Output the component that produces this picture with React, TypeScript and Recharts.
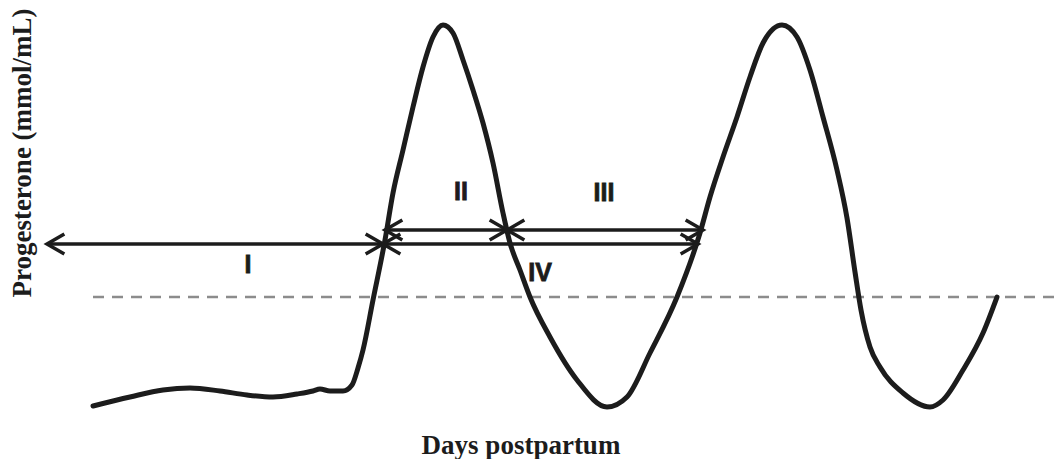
import React from 'react';
import { ComposedChart, Line, XAxis, YAxis, ReferenceLine, ReferenceDot } from 'recharts';

// Days postpartum (schematic) and progesterone level (arbitrary units)
const days = [5.3, 9.0, 12.3, 15.0, 18.0, 20.7, 23.3, 25.7, 27.3, 28.0, 29.0, 30.3, 31.2, 31.8, 32.3, 33.3, 34.5, 35.3, 36.3, 37.3, 38.3, 39.3, 40.3, 41.3, 42.3, 43.3, 44.3, 45.3, 46.3, 47.0, 48.0, 49.0, 51.0, 53.7, 56.7, 58.7, 61.0, 63.7, 66.0, 67.0, 68.3, 69.7, 71.0, 72.3, 74.2, 75.7, 77.0, 78.3, 79.7, 80.7, 81.5, 82.1, 83.0, 84.0, 86.3, 89.0, 90.3, 92.3, 94.3, 95.7];
const progesterone = [0.7, 1.15, 1.5, 1.6, 1.45, 1.25, 1.15, 1.3, 1.45, 1.55, 1.45, 1.45, 1.75, 2.6, 3.5, 6.0, 9.0, 11.35, 13.5, 15.65, 17.65, 19.15, 19.75, 19.35, 18.0, 16.5, 14.85, 12.85, 10.35, 8.85, 7.5, 6.15, 4.15, 2.0, 0.65, 1.15, 3.35, 6.15, 9.35, 11.15, 13.15, 15.15, 17.15, 18.85, 19.75, 19.15, 17.5, 15.15, 12.5, 10.1, 7.4, 5.5, 3.65, 2.65, 1.35, 0.65, 1.0, 2.5, 4.35, 6.15];

// Threshold (dashed line)
const threshold = 6.15;
const thresholdFrom = 5.3;
const thresholdTo = 102;

// Interval arrows
const arrowLabels = ['I', 'II', 'III', 'IV'];
const arrowFrom = [0.7, 34.5, 46.7, 34.3];
const arrowTo = [34.3, 46.7, 66.3, 65.8];
const arrowLevel = [8.8, 9.5, 9.5, 8.8];

// Label anchor points (baseline)
const labelDay = [20.8, 42.1, 56.4, 50.0];
const labelLevel = [7.35, 11.0, 10.95, 6.95];

const xLabel = 'Days postpartum';
const yLabel = 'Progesterone (mmol/mL)';

const data = days.map((d, i) => ({ day: d, p: progesterone[i] }));

const INK = '#1c1c1c';

const ArrowShape = (props: any) => {
  const { x1, y1, x2, y2 } = props;
  const ang = Math.atan2(y2 - y1, x2 - x1);
  const L = 20;
  const s = 0.52;
  const a1 = `M ${x1 + L * Math.cos(ang + s)} ${y1 + L * Math.sin(ang + s)} L ${x1} ${y1} L ${x1 + L * Math.cos(ang - s)} ${y1 + L * Math.sin(ang - s)}`;
  const a2 = `M ${x2 - L * Math.cos(ang + s)} ${y2 - L * Math.sin(ang + s)} L ${x2} ${y2} L ${x2 - L * Math.cos(ang - s)} ${y2 - L * Math.sin(ang - s)}`;
  return (
    <g>
      <line x1={x1} y1={y1} x2={x2} y2={y2} stroke={INK} strokeWidth={3.5} />
      <path d={a1} fill="none" stroke={INK} strokeWidth={3.5} strokeLinecap="butt" />
      <path d={a2} fill="none" stroke={INK} strokeWidth={3.5} strokeLinecap="butt" />
    </g>
  );
};

export default function App() {
  return (
    <div style={{ position: 'absolute', left: 0, top: 0, width: 1060, height: 459, background: '#fff' }}>
      <ComposedChart width={1060} height={459} data={data} margin={{ top: 20, right: 0, bottom: 39, left: 40 }}>
        <XAxis type="number" dataKey="day" domain={[0, 102]} hide />
        <YAxis type="number" domain={[0, 20]} hide />
        <ReferenceLine
          segment={[{ x: thresholdFrom, y: threshold }, { x: thresholdTo, y: threshold }]}
          stroke="#8c8c8c"
          strokeWidth={2.5}
          strokeDasharray="11 8"
          ifOverflow="visible"
        />
        {arrowLabels.map((lab, i) => (
          <ReferenceLine
            key={'a' + lab}
            segment={[{ x: arrowFrom[i], y: arrowLevel[i] }, { x: arrowTo[i], y: arrowLevel[i] }]}
            ifOverflow="visible"
            shape={ArrowShape}
          />
        ))}
        <Line
          type="monotone"
          dataKey="p"
          stroke={INK}
          strokeWidth={5}
          dot={false}
          isAnimationActive={false}
          strokeLinecap="round"
          strokeLinejoin="round"
        />
        {arrowLabels.map((lab, i) => (
          <ReferenceDot
            key={'l' + lab}
            x={labelDay[i]}
            y={labelLevel[i]}
            r={0}
            ifOverflow="visible"
            shape={(p: any) => (
              <text
                x={p.cx}
                y={p.cy}
                textAnchor="middle"
                fontFamily="'Liberation Sans', Arial, sans-serif"
                fontWeight="bold"
                fontSize={25}
                fill={INK}
                stroke={INK}
                strokeWidth={0.8}
              >
                {lab}
              </text>
            )}
          />
        ))}
      </ComposedChart>
      <div
        style={{
          position: 'absolute',
          left: 521,
          top: 445,
          transform: 'translate(-50%, -50%)',
          fontFamily: "'Liberation Serif', 'Times New Roman', serif",
          fontWeight: 'bold',
          fontSize: 27,
          color: INK,
          whiteSpace: 'nowrap',
          lineHeight: 1,
        }}
      >
        {xLabel}
      </div>
      <div
        style={{
          position: 'absolute',
          left: 22,
          top: 153,
          transform: 'translate(-50%, -50%) rotate(-90deg)',
          fontFamily: "'Liberation Serif', 'Times New Roman', serif",
          fontWeight: 'bold',
          fontSize: 27,
          color: INK,
          whiteSpace: 'nowrap',
          lineHeight: 1,
        }}
      >
        {yLabel}
      </div>
    </div>
  );
}
